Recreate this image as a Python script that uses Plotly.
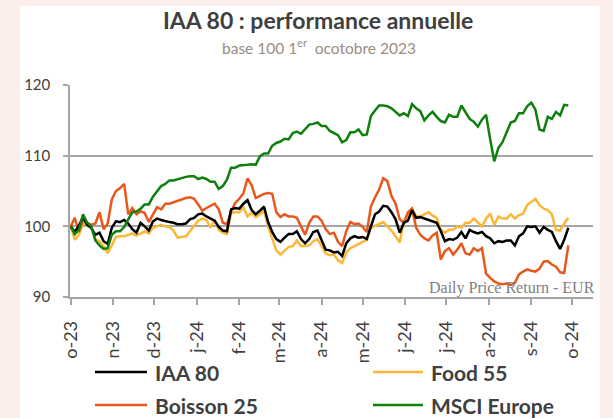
import plotly.graph_objects as go
import pandas as pd

# ---------------- data ----------------
dates = pd.date_range("2023-10-01", periods=122, freq="3D")

iaa80 = [
    100.0, 99.2, 100.1, 101.3, 100.2, 99.8, 98.8, 99.1, 97.9, 97.5,
    99.8, 100.7, 100.6, 100.9, 100.4, 99.6, 99.1, 100.5, 100.0, 99.4,
    100.7, 101.1, 100.9, 100.7, 100.6, 100.5, 100.3, 100.3, 100.4, 101.0,
    101.2, 101.7, 101.8, 101.4, 101.1, 100.8, 99.9, 99.4, 99.3, 102.4,
    102.6, 102.5, 103.2, 103.7, 102.3, 101.7, 102.2, 102.8, 100.6, 99.2,
    98.2, 97.8, 98.4, 98.9, 98.9, 99.3, 98.2, 97.6, 98.2, 99.2,
    99.4, 98.1, 96.7, 96.6, 96.3, 96.4, 95.8, 97.6, 98.3, 98.6,
    98.4, 98.5, 98.2, 100.0, 101.7, 102.1, 102.9, 102.8, 102.0, 101.0,
    99.1, 100.5, 100.8, 102.3, 101.2, 101.3, 101.1, 100.8, 100.6, 100.5,
    99.3, 97.9, 98.2, 98.1, 98.4, 99.2, 98.3, 99.5, 99.2, 99.0,
    99.2, 98.6, 98.3, 97.6, 97.9, 97.8, 98.0, 98.0, 97.3, 98.6,
    99.0, 100.0, 99.9, 100.0, 99.1, 99.9, 99.5, 99.2, 97.9, 96.8,
    98.1, 99.8,
]

food55 = [
    100.0, 98.1, 98.8, 100.4, 100.1, 99.8, 98.2, 97.9, 97.2, 96.2,
    97.3, 98.5, 98.6, 98.6, 98.8, 99.0, 98.7, 99.0, 99.3, 99.0,
    99.8, 100.0, 100.2, 100.0, 99.9, 99.4, 98.4, 98.5, 98.6, 99.3,
    100.1, 100.8, 101.1, 100.9, 99.8, 100.9, 99.5, 99.1, 98.9, 101.9,
    102.0, 102.0, 102.7, 101.4, 101.9, 101.3, 101.7, 102.2, 100.0, 98.2,
    96.6, 96.0, 96.5, 97.1, 97.2, 98.0, 97.2, 97.2, 97.3, 97.9,
    98.2, 97.2, 96.2, 95.9, 96.0, 95.2, 94.8, 96.3, 96.9, 97.2,
    97.5, 97.8, 98.1, 99.8, 100.1, 100.3, 100.6, 100.0, 99.4, 98.6,
    97.7, 100.7, 101.7, 102.5, 101.4, 101.4, 101.7, 102.0, 101.5, 101.2,
    99.5, 99.1, 99.5, 99.5, 100.0, 99.8, 100.5, 100.5, 101.1, 100.6,
    100.0, 101.1, 101.8, 100.2, 101.4, 101.1, 101.1, 101.7, 101.1, 101.6,
    101.8, 103.0, 103.5, 103.9, 103.0, 102.5, 102.3, 101.7, 99.5, 99.4,
    100.4, 101.2,
]

boisson25 = [
    100.0, 101.2, 99.2, 100.9, 100.5, 100.2, 100.4, 102.0, 99.6, 100.4,
    103.8, 105.0, 105.4, 106.0, 101.7, 102.6, 101.7, 102.1, 101.9, 100.6,
    101.7, 102.7, 102.4, 103.2, 103.2, 103.4, 103.7, 103.8, 104.0, 104.1,
    103.9, 103.1, 102.2, 102.6, 102.9, 103.2, 102.4, 100.5, 100.3, 102.1,
    103.3, 103.9, 104.7, 106.8, 105.8, 104.0, 104.3, 104.6, 104.7, 104.6,
    102.0, 101.3, 101.7, 101.4, 101.4, 101.2, 100.0, 98.8, 100.5, 101.4,
    101.4, 100.8, 99.6, 98.9, 99.1, 97.8, 97.2, 99.3, 100.6, 100.3,
    100.4, 99.9, 99.2, 102.8, 104.1, 105.2, 106.8, 106.4, 104.3, 103.2,
    101.0, 100.5, 102.0, 102.5, 99.8, 98.8, 98.3, 98.0, 98.7, 99.1,
    95.3, 96.5, 96.9, 96.0, 96.7, 97.6, 96.2, 96.0, 96.9, 96.5,
    96.9, 93.3, 92.7, 92.2, 91.9, 91.8, 91.9, 91.7, 92.0, 93.2,
    93.6, 93.9, 93.7, 93.6, 94.0, 95.0, 95.1, 94.6, 94.3, 93.5,
    93.4, 97.3,
]

msci_europe = [
    100.0, 98.9, 99.5, 101.7, 100.5, 100.0, 98.0, 97.3, 96.8, 96.9,
    98.8, 99.3, 99.3, 99.9, 101.0, 102.0, 102.1, 102.5, 103.1, 103.1,
    104.2, 105.0, 105.7, 106.0, 106.5, 106.5, 106.7, 106.8, 107.0, 107.1,
    107.1, 106.7, 106.9, 106.7, 106.3, 106.3, 105.3, 105.7, 106.6, 108.3,
    108.3, 108.6, 108.6, 108.7, 108.8, 108.7, 109.9, 110.3, 110.3, 111.4,
    111.8, 112.0, 112.4, 112.3, 113.2, 113.4, 113.1, 113.8, 114.4, 114.5,
    114.7, 114.2, 114.2, 113.5, 113.2, 112.9, 111.9, 112.2, 113.3, 113.3,
    113.7, 112.9, 113.0, 115.6, 116.4, 117.1, 117.1, 117.0, 116.7, 116.2,
    115.7, 116.0, 115.6, 117.3, 116.7, 116.3, 115.0, 115.7, 116.2, 115.5,
    114.9, 114.7, 115.8, 115.5, 115.5, 117.1, 116.1, 115.2, 114.8, 114.1,
    115.1, 115.8, 112.3, 109.2, 111.1, 111.9, 113.3, 114.7, 114.9, 116.0,
    116.0, 117.0, 117.5, 116.5, 113.7, 113.5, 115.5, 115.2, 116.2, 115.7,
    117.2, 117.1,
]

tick_dates = ["2023-10-01", "2023-11-01", "2023-12-01", "2024-01-01", "2024-02-01",
              "2024-03-01", "2024-04-01", "2024-05-01", "2024-06-01", "2024-07-01",
              "2024-08-01", "2024-09-01", "2024-10-01"]
tick_labels = ["o-23", "n-23", "d-23", "j-24", "f-24", "m-24", "a-24",
               "m-24", "j-24", "j-24", "a-24", "s-24", "o-24"]
y_ticks = [90, 100, 110, 120]

colors = {"IAA 80": "#000000", "Food 55": "#FBB735",
          "Boisson 25": "#E8581C", "MSCI Europe": "#0E800E"}
values = {"IAA 80": iaa80, "Food 55": food55,
          "Boisson 25": boisson25, "MSCI Europe": msci_europe}

# ---------------- figure ----------------
fig = go.Figure()
for name in ["Food 55", "Boisson 25", "IAA 80", "MSCI Europe"]:
    fig.add_trace(go.Scatter(
        x=dates, y=values[name], mode="lines", name=name,
        line=dict(color=colors[name], width=2.5), showlegend=False))

W, H = 613, 418
L, R, T, B = 70, 20, 85, 121
pw, ph = W - L - R, H - T - B


def px(x):
    return (x - L) / pw


def py(y):
    return (H - B - y) / ph


shapes = [
    # white card on pink page
    dict(type="rect", xref="paper", yref="paper", x0=px(20), x1=px(600),
         y0=py(418), y1=py(6), fillcolor="white", line=dict(width=0), layer="below"),
]

annotations = [
    dict(text="IAA 80 : performance annuelle", x=px(318), y=py(20), xref="paper", yref="paper",
         showarrow=False, xanchor="center", yanchor="middle",
         font=dict(family="Lato", size=23, color="#404040", weight="bold")),
    dict(text="base 100 1<sup>er</sup>  ocotobre 2023", x=px(319), y=py(46), xref="paper", yref="paper",
         showarrow=False, xanchor="center", yanchor="middle",
         font=dict(family="Lato", size=15.5, color="#9A8C80")),
    dict(text="Daily Price Return - EUR", x=px(512), y=py(288), xref="paper", yref="paper",
         showarrow=False, xanchor="center", yanchor="middle",
         font=dict(family="Liberation Serif", size=16, color="#808080")),
]

# manual legend in two columns
legend_pos = [("IAA 80", 95, 147, 153, 372), ("Food 55", 373, 423, 429, 372),
              ("Boisson 25", 95, 147, 153, 405), ("MSCI Europe", 373, 423, 429, 405)]
for name, x0, x1, xt, yy in legend_pos:
    shapes.append(dict(type="line", xref="paper", yref="paper", x0=px(x0), x1=px(x1),
                       y0=py(yy), y1=py(yy), line=dict(color=colors[name], width=2.5)))
    annotations.append(dict(text=name, x=px(xt), y=py(yy), xref="paper", yref="paper",
                            showarrow=False, xanchor="left", yanchor="middle",
                            font=dict(family="Lato", size=21, color="#404040", weight="bold")))

fig.update_layout(
    width=W, height=H,
    margin=dict(l=L, r=R, t=T, b=B),
    paper_bgcolor="#FCEFEB", plot_bgcolor="white",
    shapes=shapes, annotations=annotations,
    showlegend=False,
)
fig.update_xaxes(
    type="date", range=["2023-09-30 12:00", "2024-10-16"],
    tickvals=tick_dates, ticktext=tick_labels, tickangle=-90,
    showgrid=False, zeroline=False,
    showline=True, linecolor="#A6A6A6", linewidth=1.5,
    ticks="outside", ticklen=6, tickcolor="#A6A6A6", tickwidth=1.5,
    ticklabelstandoff=9,
    tickfont=dict(family="Lato", size=18, color="#404040"),
)
fig.update_yaxes(
    range=[90, 120], tickvals=y_ticks, ticktext=[str(v) for v in y_ticks],
    showgrid=True, gridcolor="#A6A6A6", gridwidth=1.5, zeroline=False,
    showline=True, linecolor="#A6A6A6", linewidth=1.5,
    ticks="outside", ticklen=5, tickcolor="#A6A6A6", tickwidth=1.5,
    ticklabelstandoff=10,
    tickfont=dict(family="Lato", size=15, color="#404040"),
)

fig.write_html(
    "out.html",
    config={"displayModeBar": False},
    post_script="document.body.style.margin='0';document.body.style.background='#FCEFEB';",
)
